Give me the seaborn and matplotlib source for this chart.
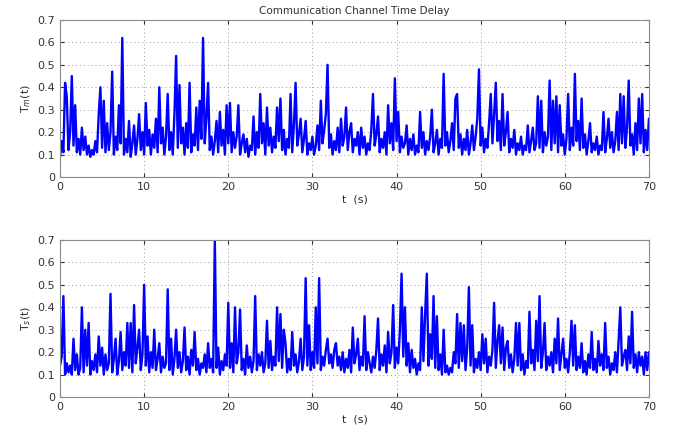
import numpy as np
import pandas as pd
import seaborn as sns
import matplotlib
matplotlib.use("Agg")
import matplotlib.pyplot as plt

# sample spacing (s) of the delay records
dt = 0.2

# T_m(t): master -> slave channel delay, one row = 2 s
tm = [
    0.09, 0.16, 0.11, 0.42, 0.36, 0.12, 0.20, 0.45, 0.14, 0.32,
    0.11, 0.17, 0.10, 0.22, 0.12, 0.18, 0.10, 0.14, 0.09, 0.12,
    0.10, 0.16, 0.11, 0.28, 0.40, 0.13, 0.34, 0.11, 0.24, 0.12,
    0.20, 0.47, 0.10, 0.18, 0.12, 0.32, 0.15, 0.62, 0.10, 0.17,
    0.11, 0.25, 0.09, 0.15, 0.23, 0.10, 0.17, 0.28, 0.12, 0.20,
    0.10, 0.33, 0.14, 0.21, 0.10, 0.19, 0.13, 0.26, 0.11, 0.40,
    0.15, 0.22, 0.10, 0.18, 0.37, 0.12, 0.20, 0.10, 0.28, 0.54,
    0.13, 0.41, 0.15, 0.22, 0.10, 0.24, 0.13, 0.42, 0.11, 0.19,
    0.14, 0.31, 0.12, 0.34, 0.17, 0.62, 0.15, 0.26, 0.42, 0.12,
    0.18, 0.10, 0.16, 0.25, 0.11, 0.29, 0.14, 0.21, 0.10, 0.32,
    0.15, 0.33, 0.11, 0.20, 0.13, 0.18, 0.32, 0.10, 0.15, 0.19,
    0.11, 0.17, 0.09, 0.14, 0.12, 0.27, 0.10, 0.20, 0.13, 0.37,
    0.15, 0.24, 0.10, 0.31, 0.14, 0.22, 0.11, 0.18, 0.13, 0.31,
    0.16, 0.35, 0.12, 0.21, 0.10, 0.17, 0.13, 0.37, 0.11, 0.23,
    0.42, 0.14, 0.19, 0.26, 0.11, 0.17, 0.25, 0.10, 0.15, 0.12,
    0.18, 0.10, 0.14, 0.23, 0.12, 0.34, 0.15, 0.21, 0.28, 0.50,
    0.13, 0.19, 0.10, 0.16, 0.12, 0.22, 0.11, 0.26, 0.14, 0.18,
    0.31, 0.12, 0.20, 0.24, 0.11, 0.17, 0.14, 0.20, 0.10, 0.22,
    0.13, 0.18, 0.10, 0.15, 0.12, 0.21, 0.37, 0.14, 0.19, 0.27,
    0.11, 0.17, 0.13, 0.20, 0.10, 0.32, 0.15, 0.24, 0.12, 0.44,
    0.16, 0.29, 0.11, 0.18, 0.13, 0.15, 0.23, 0.10, 0.17, 0.12,
    0.19, 0.10, 0.14, 0.11, 0.29, 0.13, 0.20, 0.10, 0.16, 0.12,
    0.18, 0.30, 0.11, 0.15, 0.21, 0.10, 0.17, 0.13, 0.46, 0.14,
    0.20, 0.11, 0.16, 0.24, 0.12, 0.35, 0.37, 0.13, 0.19, 0.10,
    0.17, 0.12, 0.21, 0.10, 0.15, 0.23, 0.12, 0.18, 0.26, 0.48,
    0.14, 0.22, 0.11, 0.17, 0.13, 0.24, 0.37, 0.15, 0.28, 0.42,
    0.16, 0.25, 0.12, 0.37, 0.14, 0.20, 0.29, 0.11, 0.17, 0.13,
    0.21, 0.10, 0.15, 0.12, 0.18, 0.10, 0.14, 0.12, 0.23, 0.11,
    0.16, 0.22, 0.12, 0.15, 0.36, 0.13, 0.34, 0.11, 0.20, 0.14,
    0.18, 0.43, 0.12, 0.34, 0.15, 0.36, 0.11, 0.32, 0.14, 0.19,
    0.10, 0.17, 0.37, 0.12, 0.22, 0.14, 0.46, 0.16, 0.25, 0.12,
    0.35, 0.13, 0.19, 0.10, 0.16, 0.24, 0.11, 0.15, 0.12, 0.18,
    0.10, 0.14, 0.12, 0.29, 0.11, 0.17, 0.26, 0.13, 0.20, 0.11,
    0.16, 0.29, 0.12, 0.37, 0.15, 0.36, 0.13, 0.22, 0.43, 0.14,
    0.19, 0.10, 0.24, 0.12, 0.35, 0.15, 0.37, 0.11, 0.21, 0.12,
    0.26,
]

# T_s(t): slave -> master channel delay, one row = 2 s
ts = [
    0.14, 0.18, 0.45, 0.10, 0.15, 0.11, 0.14, 0.10, 0.26, 0.12,
    0.19, 0.10, 0.13, 0.40, 0.11, 0.30, 0.14, 0.33, 0.10, 0.16,
    0.12, 0.19, 0.11, 0.27, 0.14, 0.22, 0.10, 0.19, 0.12, 0.15,
    0.46, 0.11, 0.17, 0.26, 0.10, 0.16, 0.29, 0.12, 0.20, 0.14,
    0.33, 0.13, 0.33, 0.11, 0.41, 0.15, 0.22, 0.30, 0.12, 0.19,
    0.50, 0.14, 0.27, 0.11, 0.20, 0.13, 0.30, 0.12, 0.17, 0.24,
    0.11, 0.18, 0.13, 0.15, 0.48, 0.12, 0.26, 0.10, 0.17, 0.30,
    0.13, 0.20, 0.11, 0.16, 0.31, 0.12, 0.18, 0.10, 0.21, 0.14,
    0.29, 0.12, 0.17, 0.10, 0.15, 0.13, 0.19, 0.11, 0.24, 0.13,
    0.17, 0.11, 0.70, 0.13, 0.22, 0.10, 0.16, 0.12, 0.19, 0.14,
    0.42, 0.13, 0.24, 0.11, 0.40, 0.15, 0.20, 0.39, 0.12, 0.17,
    0.10, 0.23, 0.13, 0.18, 0.11, 0.16, 0.45, 0.12, 0.19, 0.14,
    0.20, 0.11, 0.15, 0.34, 0.13, 0.25, 0.12, 0.18, 0.14, 0.40,
    0.16, 0.37, 0.13, 0.30, 0.24, 0.11, 0.17, 0.12, 0.29, 0.14,
    0.19, 0.11, 0.16, 0.26, 0.12, 0.18, 0.53, 0.14, 0.32, 0.12,
    0.20, 0.13, 0.40, 0.15, 0.53, 0.12, 0.18, 0.14, 0.21, 0.26,
    0.15, 0.19, 0.13, 0.21, 0.24, 0.14, 0.18, 0.12, 0.20, 0.11,
    0.17, 0.13, 0.21, 0.11, 0.31, 0.15, 0.19, 0.26, 0.12, 0.18,
    0.14, 0.36, 0.12, 0.20, 0.15, 0.11, 0.18, 0.13, 0.21, 0.35,
    0.12, 0.19, 0.14, 0.23, 0.11, 0.29, 0.15, 0.20, 0.41, 0.13,
    0.22, 0.15, 0.30, 0.55, 0.18, 0.40, 0.14, 0.24, 0.11, 0.21,
    0.13, 0.17, 0.10, 0.15, 0.12, 0.40, 0.16, 0.37, 0.55, 0.14,
    0.28, 0.17, 0.45, 0.13, 0.36, 0.12, 0.19, 0.10, 0.30, 0.11,
    0.14, 0.10, 0.13, 0.11, 0.20, 0.15, 0.37, 0.13, 0.33, 0.16,
    0.32, 0.12, 0.22, 0.49, 0.14, 0.32, 0.11, 0.17, 0.13, 0.20,
    0.12, 0.28, 0.15, 0.26, 0.11, 0.18, 0.14, 0.21, 0.42, 0.13,
    0.25, 0.32, 0.15, 0.31, 0.12, 0.22, 0.25, 0.13, 0.19, 0.11,
    0.17, 0.33, 0.14, 0.33, 0.12, 0.19, 0.10, 0.16, 0.13, 0.38,
    0.15, 0.21, 0.12, 0.34, 0.16, 0.45, 0.13, 0.20, 0.33, 0.12,
    0.18, 0.14, 0.20, 0.11, 0.26, 0.15, 0.35, 0.12, 0.19, 0.26,
    0.13, 0.17, 0.11, 0.20, 0.34, 0.14, 0.32, 0.12, 0.18, 0.13,
    0.24, 0.11, 0.16, 0.10, 0.19, 0.13, 0.29, 0.12, 0.17, 0.11,
    0.25, 0.14, 0.19, 0.12, 0.33, 0.13, 0.18, 0.10, 0.15, 0.12,
    0.20, 0.11, 0.25, 0.40, 0.14, 0.18, 0.21, 0.12, 0.27, 0.15,
    0.38, 0.13, 0.19, 0.11, 0.20, 0.14, 0.18, 0.10, 0.20, 0.12,
    0.20,
]

df_m = pd.DataFrame({"t": np.arange(len(tm)) * dt, "delay": tm})
df_s = pd.DataFrame({"t": np.arange(len(ts)) * dt, "delay": ts})

sns.set_style("white")
plt.rcParams["font.family"] = ["DejaVu Sans"]

fig = plt.figure(figsize=(6.73, 4.32), dpi=100)
ax1 = fig.add_axes([0.0892, 0.5903, 0.875, 0.3634])
ax2 = fig.add_axes([0.0892, 0.0810, 0.875, 0.3634])

tick_col = "#333333"
for ax, d, lab in [(ax1, df_m, r"T$_m$(t)"), (ax2, df_s, r"T$_s$(t)")]:
    sns.lineplot(data=d, x="t", y="delay", ax=ax, color="#0000ff",
                 linewidth=1.7, estimator=None)
    ax.set_xlim(0, 70)
    ax.set_ylim(0, 0.7)
    ax.set_xticks(np.arange(0, 71, 10))
    ax.set_yticks(np.round(np.arange(0, 0.71, 0.1), 1))
    ax.set_yticklabels(["0", "0.1", "0.2", "0.3", "0.4", "0.5", "0.6", "0.7"])
    ax.grid(True, linestyle=(0, (1, 3)), color="#9a9a9a", linewidth=0.7)
    ax.tick_params(direction="in", length=3, labelsize=8, colors=tick_col,
                   top=True, right=True, bottom=True, left=True)
    for s in ax.spines.values():
        s.set_color("#8c8c8c")
        s.set_linewidth(0.8)
    ax.set_xlabel("t  (s)", fontsize=8, color="#303030", labelpad=2)
    ax.set_ylabel(lab, fontsize=8, color="#303030", labelpad=3)

ax1.set_title("Communication Channel Time Delay", fontsize=7.5,
              color="#303030", pad=4)

fig.savefig("out.png", dpi=100)
